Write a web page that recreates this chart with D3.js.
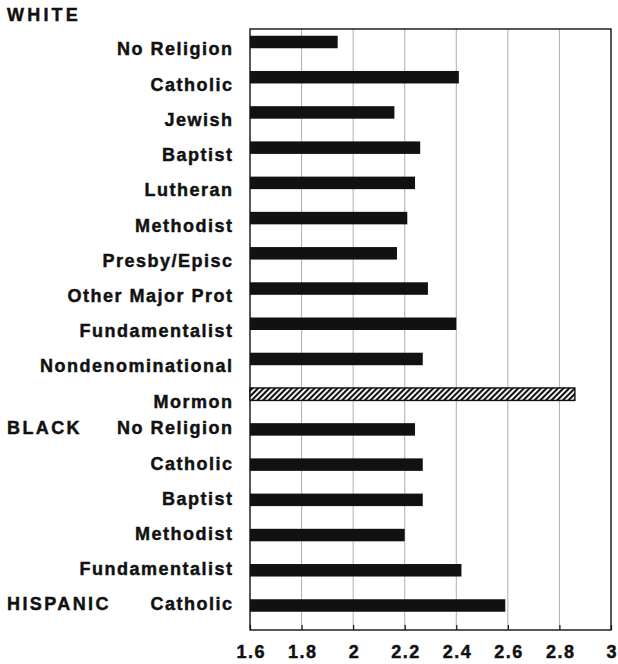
<!DOCTYPE html>
<html>
<head>
<meta charset="utf-8">
<script src="https://cdn.jsdelivr.net/npm/d3@7/dist/d3.min.js"></script>
<style>
  html, body { margin: 0; padding: 0; background: #fff; }
  svg { display: block; }
  text { font-family: "Liberation Sans", Arial, Helvetica, sans-serif; font-weight: bold; fill: #111; stroke: #111; stroke-width: 0.45px; }
</style>
</head>
<body>
<svg id="chart" width="618" height="664"></svg>
<script>
// ---- data ----
const groups = ["WHITE", "WHITE", "WHITE", "WHITE", "WHITE", "WHITE", "WHITE", "WHITE", "WHITE", "WHITE", "WHITE",
                "BLACK", "BLACK", "BLACK", "BLACK", "BLACK",
                "HISPANIC"];
const categories = ["No Religion", "Catholic", "Jewish", "Baptist", "Lutheran", "Methodist", "Presby/Episc",
                    "Other Major Prot", "Fundamentalist", "Nondenominational", "Mormon",
                    "No Religion", "Catholic", "Baptist", "Methodist", "Fundamentalist",
                    "Catholic"];
const values = [1.94, 2.41, 2.16, 2.26, 2.24, 2.21, 2.17, 2.29, 2.40, 2.27, 2.86,
                2.24, 2.27, 2.27, 2.20, 2.42,
                2.59];
const highlighted = ["Mormon"];
const tickValues = [1.6, 1.8, 2, 2.2, 2.4, 2.6, 2.8, 3];
const tickLabels = ["1.6", "1.8", "2", "2.2", "2.4", "2.6", "2.8", "3"];

const rows = categories.map((c, i) => ({ key: groups[i] + "|" + c, group: groups[i], cat: c, value: values[i] }));

// ---- layout ----
const svg = d3.select("#chart");
const plot = { left: 250, right: 611, top: 29, bottom: 630 };

const x = d3.scaleLinear().domain([1.6, 3]).range([plot.left, plot.right]);
const y = d3.scalePoint().domain(rows.map(d => d.key)).range([42, 605.5]);
const barH = 12.5;

// hatch pattern
const defs = svg.append("defs");
const pat = defs.append("pattern")
  .attr("id", "hatch").attr("patternUnits", "userSpaceOnUse")
  .attr("width", 4).attr("height", 4)
  .attr("patternTransform", "rotate(45)");
pat.append("rect").attr("width", 4).attr("height", 4).attr("fill", "#fff");
pat.append("rect").attr("x", 0).attr("y", 0).attr("width", 2.1).attr("height", 4)
  .attr("fill", "#111");

// gridlines
svg.append("g")
  .selectAll("line")
  .data(tickValues.slice(1, -1))
  .join("line")
  .attr("x1", d => x(d)).attr("x2", d => x(d))
  .attr("y1", plot.top).attr("y2", plot.bottom)
  .attr("stroke", "#9a9a9a").attr("stroke-width", 0.8);

// bottom axis
const xAxis = d3.axisBottom(x)
  .tickValues(tickValues)
  .tickFormat((d, i) => tickLabels[i])
  .tickSize(-5)
  .tickPadding(15);
const gx = svg.append("g")
  .attr("transform", `translate(0,${plot.bottom})`)
  .call(xAxis);
gx.select(".domain").remove();
gx.selectAll(".tick line").attr("stroke", "#111").attr("stroke-width", 1.2);
gx.selectAll(".tick text")
  .attr("fill", "#111")
  .style("font-family", '"Liberation Sans", Arial, sans-serif')
  .style("font-weight", "bold")
  .style("font-size", "18px")
  .style("letter-spacing", "1.5px")
  .attr("dx", 0.75)
  .attr("dy", "0.71em");

// frame
svg.append("rect")
  .attr("x", plot.left).attr("y", plot.top)
  .attr("width", plot.right - plot.left).attr("height", plot.bottom - plot.top)
  .attr("fill", "none").attr("stroke", "#111").attr("stroke-width", 1.4);

// bars
svg.append("g")
  .selectAll("rect")
  .data(rows)
  .join("rect")
  .attr("x", x(1.6))
  .attr("y", d => y(d.key) - barH / 2)
  .attr("width", d => x(d.value) - x(1.6))
  .attr("height", barH)
  .attr("fill", d => highlighted.includes(d.cat) ? "url(#hatch)" : "#111")
  .attr("stroke", d => highlighted.includes(d.cat) ? "#111" : "none")
  .attr("stroke-width", 1.4);

// category labels
const ls = 1.5;
svg.append("g")
  .selectAll("text")
  .data(rows)
  .join("text")
  .attr("x", 232 + ls)
  .attr("y", d => y(d.key) + (d.group === "WHITE" ? 7 : -1.5))
  .attr("dy", "0.36em")
  .attr("text-anchor", "end")
  .style("font-size", "18px")
  .style("letter-spacing", ls + "px")
  .text(d => d.cat);

// group labels
const firstOfGroup = rows.filter((d, i) => i === 0 || rows[i - 1].group !== d.group);
svg.append("g")
  .selectAll("text")
  .data(firstOfGroup)
  .join("text")
  .attr("x", 7)
  .attr("y", (d, i) => i === 0 ? 14.5 : y(d.key) - 1.5)
  .attr("dy", "0.36em")
  .style("font-size", "18px")
  .style("letter-spacing", (d, i) => i === 0 ? "3.2px" : "2.4px")
  .text(d => d.group);
</script>
</body>
</html>
